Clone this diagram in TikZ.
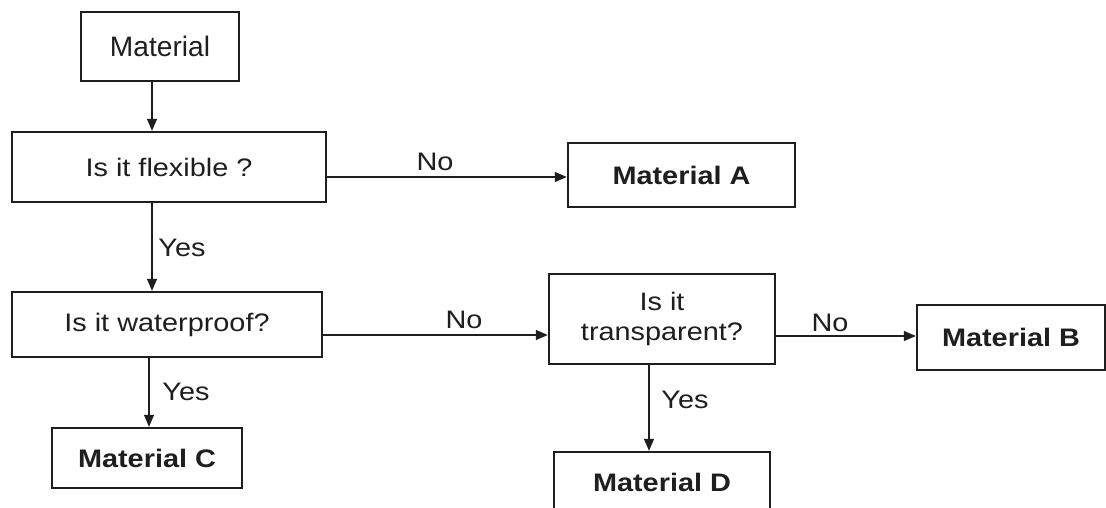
\documentclass[tikz,border=0pt]{standalone}
\usepackage{fontspec}
\setmainfont{Liberation Sans}[FakeStretch=1.14]
\newfontfamily\plainfont{Liberation Sans}
\usetikzlibrary{arrows.meta}
\definecolor{ink}{HTML}{1E1E1E}
\tikzset{
  box/.style={draw=ink, line width=1.5pt, rectangle, inner sep=0pt, align=center,
              text=ink, font=\fontsize{18}{21.3}\selectfont},
  boldbox/.style={box, font=\fontsize{18}{21.3}\selectfont\bfseries},
  lbl/.style={text=ink, inner sep=0pt, font=\fontsize{18}{21.3}\selectfont},
  arr/.style={draw=ink, line width=1.5pt, -{Triangle[length=8.5pt,width=6.8pt]}}
}
\begin{document}
\begin{tikzpicture}[x=0.025cm, y=-0.025cm]
\useasboundingbox[fill=white] (0,0) rectangle (1106,507);
\clip (0,0) rectangle (1106,507);

% boxes
\node[box, minimum width=3.95cm, minimum height=1.725cm, font=\plainfont\fontsize{20}{24}\selectfont] (mat) at (160,46.5) {Material};
\node[box, minimum width=7.85cm, minimum height=1.75cm] (flex) at (169,167) {Is it flexible ?};
\node[boldbox, minimum width=5.675cm, minimum height=1.6cm] (matA) at (681.5,175) {Material A};
\node[box, minimum width=7.75cm, minimum height=1.625cm] (water) at (167,324.5) {Is it waterproof?};
\node[box, minimum width=5.65cm, minimum height=2.25cm] (trans) at (662,319) {Is it\\transparent?};
\node[boldbox, minimum width=4.7cm, minimum height=1.625cm] (matB) at (1011,337.5) {Material B};
\node[boldbox, minimum width=4.75cm, minimum height=1.5cm] (matC) at (147,458) {Material C};
\node[boldbox, minimum width=5.4cm, minimum height=1.5cm] (matD) at (662,482) {Material D};

% guide coordinates for connector lines
\coordinate (v1) at (152,0);
\coordinate (v2) at (149,0);
\coordinate (v3) at (649,0);
\coordinate (h1) at (0,177);
\coordinate (h2) at (0,335);
\coordinate (h3) at (0,336);

% connectors
\draw[arr] (mat.south -| v1) -- (flex.north -| v1);
\draw[arr] (flex.east |- h1) -- (matA.west |- h1);
\draw[arr] (flex.south -| v1) -- (water.north -| v1);
\draw[arr] (water.east |- h2) -- (trans.west |- h2);
\draw[arr] (trans.east |- h3) -- (matB.west |- h3);
\draw[arr] (water.south -| v2) -- (matC.north -| v2);
\draw[arr] (trans.south -| v3) -- (matD.north -| v3);

% labels
\node[lbl] (no1) at (435,162) {No};
\node[lbl] (yes1) at (182,248) {Yes};
\node[lbl] (no2) at (464,320) {No};
\node[lbl] (no3) at (830,323) {No};
\node[lbl] (yes2) at (186,392) {Yes};
\node[lbl] (yes3) at (685,400) {Yes};
\end{tikzpicture}
\end{document}
